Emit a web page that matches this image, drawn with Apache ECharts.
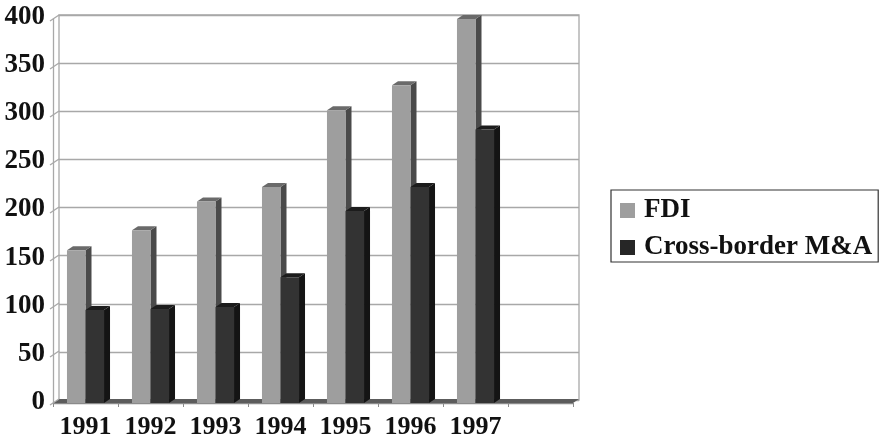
<!DOCTYPE html>
<html><head><meta charset="utf-8">
<style>html,body{margin:0;background:#fff}#c{width:882px;height:440px;filter:blur(0.45px)}</style>
<script src="https://cdn.jsdelivr.net/npm/echarts@6/dist/echarts.min.js"></script>
</head><body><div id="c"></div>
<script>
const categories = ['1991','1992','1993','1994','1995','1996','1997',''];
const fdiValues = [159,180,210,225,305,331,400];
const maValues = [97,98,100,131,200,225,285];
const yTicks = [0,50,100,150,200,250,300,350,400];
const DX = 6, DY = -4;
const serif = '"Liberation Serif","DejaVu Serif",serif';
function bar3d(offsetSign, front, side, top){
  return function(params, api){
    const p = api.coord([api.value(0), api.value(1)]);
    const base = api.coord([api.value(0), 0]);
    const w = api.size([1,0])[0] * 0.285;
    const x0 = offsetSign < 0 ? p[0]-w : p[0];
    const x1 = x0 + w;
    return {type:'group', children:[
      {type:'polygon', shape:{points:[[x1,p[1]],[x1+DX,p[1]+DY],[x1+DX,base[1]+DY],[x1,base[1]]]}, style:{fill:side}},
      {type:'polygon', shape:{points:[[x0,p[1]],[x0+DX,p[1]+DY],[x1+DX,p[1]+DY],[x1,p[1]]]}, style:{fill:top}},
      {type:'rect', shape:{x:x0,y:p[1],width:w,height:base[1]-p[1]}, style:{fill:front}}
    ]};
  };
}
function wall(params, api){
  const v = api.value(1);
  const p = api.coord([0, v]);
  const x = p[0] - api.size([1,0])[0]/2;
  const kids = [{type:'line', shape:{x1:x-3,y1:p[1]+2,x2:x+DX,y2:p[1]+DY}, style:{stroke:'#a8a8a8',lineWidth:1.3}}];
  if (v === 0) {
    const r = api.coord([7, 0]);
    const xr = r[0] + api.size([1,0])[0]/2;
    kids.unshift({type:'polygon', shape:{points:[[x,p[1]],[x+DX,p[1]+DY],[xr+DX,p[1]+DY],[xr,p[1]]]}, style:{fill:'#5c5c5c'}});
  }
  return {type:'group', children:kids};
}
const chart = echarts.init(document.getElementById('c'), null, {renderer:'canvas'});
chart.setOption({
  animation:false,
  backgroundColor:'#fff',
  grid:[
    {left:59,top:15,width:520,height:385,show:true,borderColor:'#a8a8a8',borderWidth:1.3,backgroundColor:'transparent'},
    {left:53,top:19,width:520,height:385},
    {left:59,top:17,width:520,height:385}
  ],
  xAxis:[
    {gridIndex:0,type:'category',data:categories,show:false},
    {gridIndex:1,type:'category',data:categories,
     axisLine:{lineStyle:{color:'#8a8a8a',width:1.3}},
     axisTick:{show:true,alignWithLabel:false,length:4,lineStyle:{color:'#8a8a8a'}},
     axisLabel:{color:'#111',fontFamily:serif,fontWeight:'bold',fontSize:26,margin:11,interval:0}},
    {gridIndex:2,type:'category',data:categories,show:false}
  ],
  yAxis:[
    {gridIndex:0,type:'value',min:0,max:400,interval:50,
     axisLine:{show:false},axisTick:{show:false},axisLabel:{show:false},
     splitLine:{show:true,lineStyle:{color:'#a8a8a8',width:1.3}}},
    {gridIndex:1,type:'value',min:0,max:400,interval:50,
     axisLine:{show:true,lineStyle:{color:'#a8a8a8',width:1.3}},
     axisTick:{show:false},splitLine:{show:false},axisLabel:{show:false}},
    {gridIndex:2,type:'value',min:0,max:400,interval:50,
     axisLine:{show:false},axisTick:{show:false},splitLine:{show:false},
     axisLabel:{show:true,color:'#111',fontFamily:serif,fontWeight:'bold',fontSize:27,margin:14,verticalAlign:'middle'}}
  ],
  legend:{
    orient:'vertical',left:611,top:190,
    data:[{name:'FDI',itemStyle:{color:'#9e9e9e'}},{name:'Cross-border M&A',itemStyle:{color:'#262626'}}],
    icon:'rect',itemWidth:15,itemHeight:15,itemGap:10,
    padding:[7,6,1,9],
    borderColor:'#333',borderWidth:1.2,
    textStyle:{color:'#111',fontFamily:serif,fontWeight:'bold',fontSize:27,padding:[0,0,0,4]}
  },
  series:[
    {type:'custom',name:'wall',xAxisIndex:1,yAxisIndex:1,silent:true,renderItem:wall,clip:false,
     data:yTicks.map(v=>[0,v])},
    {type:'custom',name:'FDI',xAxisIndex:1,yAxisIndex:1,clip:false,
     renderItem:bar3d(-1,'#9e9e9e','#4a4a4a','#6a6a6a'),
     data:fdiValues.map((v,i)=>[i,v]),encode:{x:0,y:1}},
    {type:'custom',name:'Cross-border M&A',xAxisIndex:1,yAxisIndex:1,clip:false,
     renderItem:bar3d(1,'#333333','#141414','#1c1c1c'),
     data:maValues.map((v,i)=>[i,v]),encode:{x:0,y:1}}
  ]
});
</script></body></html>
